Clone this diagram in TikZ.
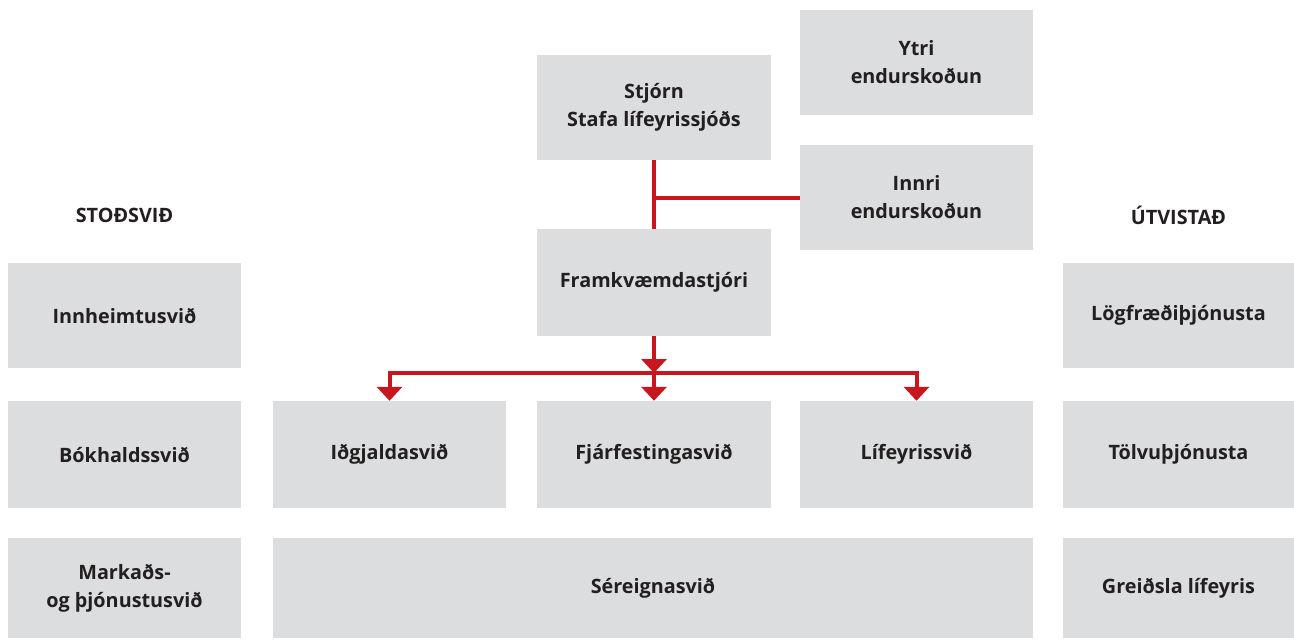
\documentclass[tikz,border=0pt]{standalone}
\usepackage{fontspec}
\setmainfont{Open Sans}
\usetikzlibrary{arrows.meta}
\definecolor{boxgray}{HTML}{DCDDDF}
\definecolor{linered}{HTML}{C8161E}
\definecolor{txt}{HTML}{231F20}
\tikzset{
  orgbox/.style={rectangle, fill=boxgray, draw=none, inner sep=0pt,
    minimum width=233pt, minimum height=105pt, align=center,
    font=\fontsize{19.8}{28}\selectfont\bfseries, text=txt},
  headlabel/.style={font=\fontsize{19.8}{28}\selectfont\bfseries, text=txt, inner sep=0pt},
  redline/.style={draw=linered, line width=4pt},
  redarrow/.style={redline, -{Triangle[width=25pt,length=14pt]}}
}
\begin{document}
\begin{tikzpicture}[x=1pt,y=-1pt]
\useasboundingbox (0,0) rectangle (1294,640);
% top
\node[orgbox] (ytri) at (916.5,62.5) {Ytri\\endurskoðun};
\node[orgbox, minimum width=234pt] (stjorn) at (654,107.5) {Stjórn\\Stafa lífeyrissjóðs};
\node[orgbox] (innri) at (916.5,197.5) {Innri\\endurskoðun};
\node[orgbox, minimum width=234pt, minimum height=107pt] (framk) at (654,282.5) {Framkvæmdastjóri};
% headings
\node[headlabel] (stod) at (124.5,215) {STOÐSVIÐ};
\node[headlabel] (utv) at (1178.5,215) {ÚTVISTAÐ};
% row 1
\node[orgbox] (innh) at (124.5,315.5) {Innheimtusvið};
\node[orgbox, minimum width=231pt] (logfr) at (1178.5,315.5) {Lögfræðiþjónusta};
% row 2
\node[orgbox, minimum height=107pt] (bokh) at (124.5,454.5) {Bókhaldssvið};
\node[orgbox, minimum height=107pt] (idgj) at (389.5,454.5) {Iðgjaldasvið};
\node[orgbox, minimum width=234pt, minimum height=107pt] (fjarf) at (654,454.5) {Fjárfestingasvið};
\node[orgbox, minimum height=107pt] (lifey) at (916.5,454.5) {Lífeyrissvið};
\node[orgbox, minimum width=231pt, minimum height=107pt] (tolvu) at (1178.5,454.5) {Tölvuþjónusta};
% row 3
\node[orgbox, minimum height=100pt] (mark) at (124.5,588) {Markaðs-\\og þjónustusvið};
\node[orgbox, minimum width=760pt, minimum height=100pt] (sereign) at (653,588) {Séreignasvið};
\node[orgbox, minimum width=231pt, minimum height=100pt] (greid) at (1178.5,588) {Greiðsla lífeyris};
% connectors
\coordinate (hub) at (654,373);
\draw[redline] (stjorn.south) -- (framk.north);
\draw[redline] (innri.west) -- (innri.west -| stjorn.south);
\draw[redarrow] (framk.south) -- (hub);
\draw[redline, line cap=rect] (hub -| idgj.north) -- (hub -| lifey.north);
\draw[redarrow] (hub -| idgj.north) -- (idgj.north);
\draw[redarrow] (hub) -- (fjarf.north);
\draw[redarrow] (hub -| lifey.north) -- (lifey.north);
\end{tikzpicture}
\end{document}
